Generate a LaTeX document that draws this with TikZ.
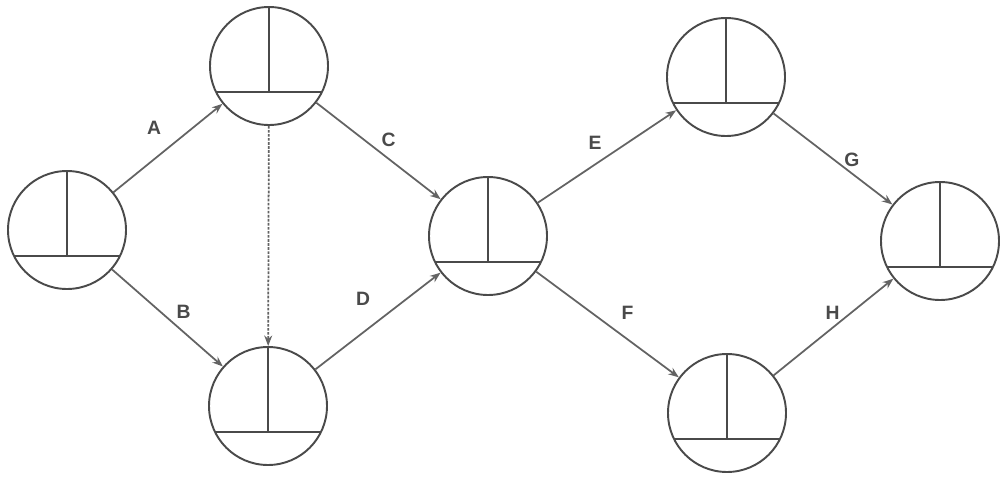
\documentclass[tikz,border=0pt]{standalone}
\usepackage{fontspec}
\setsansfont{Liberation Sans}
\usepackage{xcolor}
\usepackage{tikz}
\usetikzlibrary{arrows.meta,positioning}
\definecolor{bk80}{HTML}{4A4A4A}
\definecolor{bk60}{HTML}{636363}
\tikzset{
  eventnode/.style={
    circle, draw=bk80, line width=1.1pt, minimum size=2.36cm, inner sep=0pt,
    path picture={
      \draw[bk80, line width=1.1pt] ([yshift=-0.52cm]path picture bounding box.center)
        ++(-1.5,0) -- ++(3,0);
      \draw[bk80, line width=1.1pt] ([yshift=-0.52cm]path picture bounding box.center)
        -- (path picture bounding box.north);
    }
  },
  actarrow/.style={
    -{Stealth[length=6pt,width=4.5pt]}, line width=1pt, color=bk60
  },
  dummyarrow/.style={
    actarrow, dash pattern=on 1.5pt off 0.8pt
  },
  actlabel/.style={
    font=\fontsize{11}{13}\selectfont\sffamily\bfseries, text=bk80,
    inner sep=1pt, midway
  },
}
\begin{document}
\begin{tikzpicture}
\useasboundingbox (0,0) rectangle (20,9.52);
% events
\node[eventnode] (e1) at (1.34,4.92) {};
\node[eventnode] (e2) at (5.38,8.20) {};
\node[eventnode] (e3) at (5.36,1.40) {};
\node[eventnode] (e4) at (9.76,4.80) {};
\node[eventnode] (e5) at (14.52,7.98) {};
\node[eventnode] (e6) at (14.54,1.26) {};
\node[eventnode] (e7) at (18.80,4.70) {};
% activities
\draw[actarrow] (e1) -- node[actlabel, shift={(-0.28,0.40)}] {A} (e2);
\draw[actarrow] (e1) -- node[actlabel, shift={(0.32,0.12)}] {B} (e3);
\draw[actarrow] (e2) -- node[actlabel, shift={(0.20,0.22)}] {C} (e4);
\draw[actarrow] (e3) -- node[actlabel, shift={(-0.30,0.44)}] {D} (e4);
\draw[actarrow] (e4) -- node[actlabel, shift={(-0.24,0.28)}] {E} (e5);
\draw[actarrow] (e4) -- node[actlabel, shift={(0.40,0.24)}] {F} (e6);
\draw[actarrow] (e5) -- node[actlabel, shift={(0.38,-0.02)}] {G} (e7);
\draw[actarrow] (e6) -- node[actlabel, shift={(-0.02,0.28)}] {H} (e7);
% dummy
\draw[dummyarrow] (e2) -- (e3);
\end{tikzpicture}
\end{document}
